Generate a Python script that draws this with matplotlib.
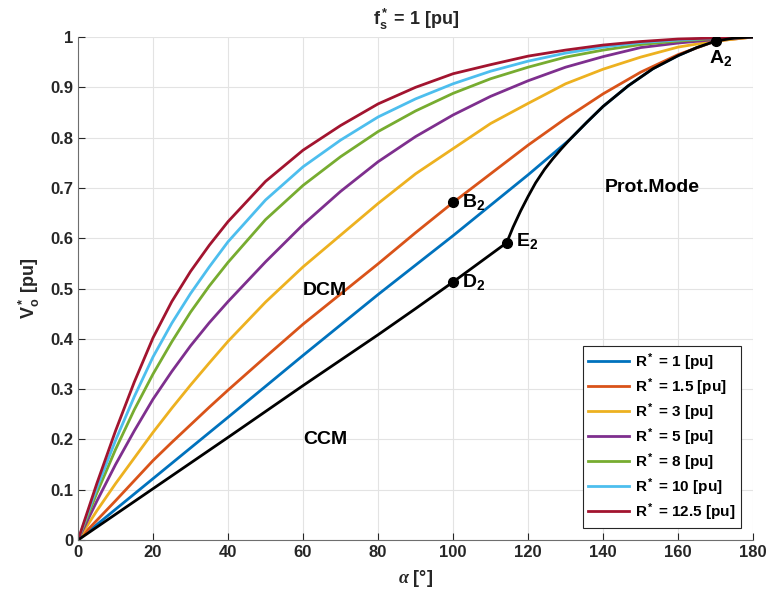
import matplotlib
matplotlib.use("Agg")
import matplotlib.pyplot as plt

plt.rcParams['font.family'] = ['Liberation Sans', 'DejaVu Sans']
plt.rcParams['font.weight'] = 'bold'
plt.rcParams['axes.titleweight'] = 'bold'
plt.rcParams['axes.labelweight'] = 'bold'
plt.rcParams['mathtext.fontset'] = 'custom'
plt.rcParams['mathtext.rm'] = 'Liberation Sans:bold'
plt.rcParams['mathtext.bf'] = 'Liberation Sans:bold'
plt.rcParams['mathtext.it'] = 'Liberation Serif:italic'
plt.rcParams['mathtext.default'] = 'rm'

# alpha grid [deg] for the DCM curves
alpha = [0, 5, 10, 15, 20, 25, 30, 35, 40, 50, 60, 70, 80, 90, 100, 110, 120, 130, 140, 150, 160, 170, 180]

v_r125 = [0, 0.112, 0.217, 0.314, 0.402, 0.474, 0.534, 0.586, 0.633, 0.713, 0.775, 0.824, 0.867, 0.900, 0.927, 0.945, 0.962, 0.974, 0.984, 0.991, 0.996, 0.998, 1.0]
v_r10 = [0, 0.103, 0.198, 0.285, 0.364, 0.431, 0.490, 0.543, 0.593, 0.676, 0.742, 0.795, 0.841, 0.877, 0.907, 0.932, 0.952, 0.968, 0.980, 0.989, 0.994, 0.998, 1.0]
v_r8 = [0, 0.093, 0.180, 0.259, 0.330, 0.394, 0.453, 0.505, 0.552, 0.637, 0.705, 0.762, 0.812, 0.853, 0.888, 0.917, 0.940, 0.960, 0.974, 0.985, 0.992, 0.997, 1.0]
v_r5 = [0, 0.077, 0.150, 0.217, 0.280, 0.335, 0.386, 0.432, 0.474, 0.553, 0.627, 0.693, 0.752, 0.802, 0.845, 0.882, 0.913, 0.940, 0.961, 0.979, 0.988, 0.995, 1.0]
v_r3 = [0, 0.058, 0.112, 0.163, 0.214, 0.262, 0.308, 0.352, 0.395, 0.473, 0.543, 0.606, 0.669, 0.728, 0.778, 0.828, 0.868, 0.907, 0.936, 0.960, 0.980, 0.992, 1.0]
v_r15 = [0, 0.039, 0.078, 0.118, 0.158, 0.194, 0.229, 0.264, 0.298, 0.364, 0.429, 0.489, 0.549, 0.611, 0.671, 0.728, 0.785, 0.838, 0.887, 0.930, 0.965, 0.992, 1.0]

# R* = 1: straight until it hits the boundary, then runs along it
alpha_r1 = [0, 20, 40, 60, 80, 100, 120, 131.1, 135.6, 140, 146.7, 153.3, 160, 165, 170, 175, 180]
v_r1 = [0, 0.122, 0.244, 0.367, 0.488, 0.605, 0.726, 0.796, 0.830, 0.862, 0.903, 0.937, 0.963, 0.979, 0.992, 0.998, 1.0]

# CCM / DCM / protection-mode boundary
alpha_b = [0, 20, 40, 60, 80, 90, 100, 114.3, 116, 118, 120, 122, 124.4, 126.6, 128.9, 131.1, 135.6, 140, 146.7, 153.3, 160, 165, 170, 175, 180]
v_b = [0, 0.102, 0.204, 0.307, 0.408, 0.460, 0.513, 0.591, 0.622, 0.654, 0.683, 0.710, 0.737, 0.758, 0.778, 0.796, 0.830, 0.862, 0.903, 0.937, 0.963, 0.979, 0.992, 0.998, 1.0]

pt_names = ['A$_2$', 'B$_2$', 'D$_2$', 'E$_2$']
pt_alpha = [170, 100, 100, 114.3]
pt_v = [0.993, 0.671, 0.513, 0.591]

labels = ['R$^*$ = 1 [pu]', 'R$^*$ = 1.5 [pu]', 'R$^*$ = 3 [pu]', 'R$^*$ = 5 [pu]',
          'R$^*$ = 8 [pu]', 'R$^*$ = 10 [pu]', 'R$^*$ = 12.5 [pu]']
colors = ['#0072BD', '#D95319', '#EDB120', '#7E2F8E', '#77AC30', '#4DBEEE', '#A2142F']

fig = plt.figure(figsize=(7.68, 5.97), dpi=100)
ax = fig.add_axes([0.1016, 0.0955, 0.879, 0.8425])

curves = [(alpha_r1, v_r1), (alpha, v_r15), (alpha, v_r3), (alpha, v_r5),
          (alpha, v_r8), (alpha, v_r10), (alpha, v_r125)]
for (x, y), c, lab in zip(curves, colors, labels):
    ax.plot(x, y, color=c, lw=2, label=lab)

ax.plot(alpha_b, v_b, color='k', lw=2)
ax.plot(pt_alpha, pt_v, 'o', color='k', ms=7)

ax.text(168.3, 0.958, pt_names[0], fontsize=14, va='center')
ax.text(102.5, 0.672, pt_names[1], fontsize=14, va='center')
ax.text(102.5, 0.512, pt_names[2], fontsize=14, va='center')
ax.text(116.8, 0.594, pt_names[3], fontsize=14, va='center')

ax.text(60, 0.497, 'DCM', fontsize=14, va='center')
ax.text(60, 0.199, 'CCM', fontsize=14, va='center')
ax.text(140.5, 0.70, 'Prot.Mode', fontsize=14, va='center')

ax.set_xlim(0, 180)
ax.set_ylim(0, 1)
ax.set_xticks(range(0, 181, 20))
ax.set_yticks([i / 10 for i in range(11)])
ax.set_yticklabels(['0', '0.1', '0.2', '0.3', '0.4', '0.5', '0.6', '0.7', '0.8', '0.9', '1'])
ax.tick_params(direction='in', length=5, labelsize=12, colors='#262626', width=0.8)
for t in ax.get_xticklabels() + ax.get_yticklabels():
    t.set_fontweight('bold')
ax.grid(True, color='#e3e3e3', lw=0.8)
ax.set_axisbelow(True)
for s in ['top', 'right']:
    ax.spines[s].set_visible(False)
for s in ['left', 'bottom']:
    ax.spines[s].set_color('#6e6e6e')

ax.set_xlabel(r'$\mathit{\alpha}$ [°]', fontsize=13, color='#262626', labelpad=6)
ax.set_ylabel('V$_o^*$ [pu]', fontsize=13, color='#262626', labelpad=6)
ax.set_title('f$_s^*$ = 1 [pu]', fontsize=13, color='#262626', pad=9)

leg = ax.legend(loc='lower right', bbox_to_anchor=(0.982, 0.024), fontsize=11,
                fancybox=False, framealpha=1, edgecolor='#262626', borderaxespad=0,
                handlelength=2.7, handletextpad=0.4, labelspacing=0.22, borderpad=0.35)
leg.get_frame().set_linewidth(0.8)

fig.savefig('out.png', dpi=100)
